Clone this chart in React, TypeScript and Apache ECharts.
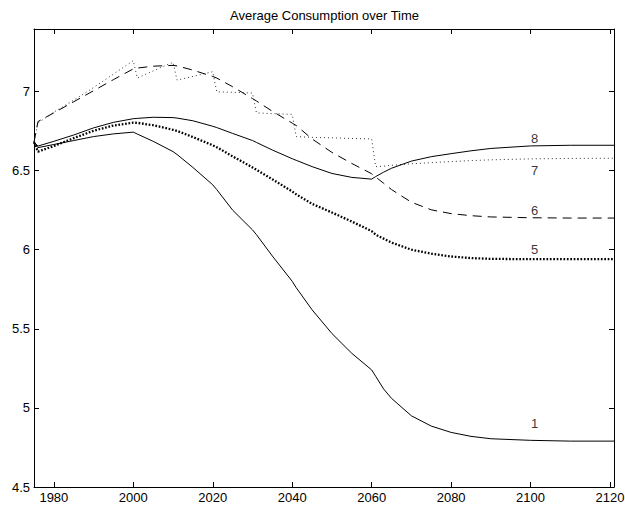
import React, { useEffect, useRef } from "react";
import * as echarts from "echarts";

// Sample years shared by every scenario
const years = [
  1975, 1976, 1980, 1985, 1990, 1995, 2000, 2001, 2005, 2010, 2011, 2015, 2020, 2021, 2025,
  2030, 2031, 2035, 2040, 2041, 2045, 2050, 2055, 2060, 2061, 2063, 2065, 2070, 2075, 2080,
  2085, 2090, 2100, 2110, 2121,
];

// Average consumption per scenario
const scenario1 = [
  6.68, 6.645, 6.665, 6.69, 6.715, 6.732, 6.743, 6.731, 6.685, 6.62, 6.602, 6.52, 6.41, 6.38, 6.25,
  6.125, 6.095, 5.96, 5.8, 5.76, 5.62, 5.47, 5.345, 5.24, 5.2, 5.12, 5.06, 4.95, 4.885, 4.845,
  4.82, 4.805, 4.795, 4.79, 4.79,
];
const scenario5 = [
  6.68, 6.62, 6.655, 6.705, 6.752, 6.785, 6.803, 6.802, 6.787, 6.758, 6.751, 6.712, 6.66, 6.648, 6.59,
  6.52, 6.505, 6.445, 6.368, 6.35, 6.29, 6.235, 6.178, 6.117, 6.095, 6.07, 6.045, 6.0, 5.975, 5.957,
  5.947, 5.942, 5.94, 5.94, 5.94,
];
const scenario6 = [
  6.68, 6.81, 6.865, 6.935, 7.005, 7.075, 7.143, 7.148, 7.16, 7.165, 7.162, 7.135, 7.095, 7.085, 7.03,
  6.955, 6.94, 6.875, 6.8, 6.785, 6.7, 6.615, 6.545, 6.48, 6.46, 6.42, 6.38, 6.3, 6.252, 6.228,
  6.215, 6.207, 6.202, 6.2, 6.2,
];
const scenario7 = [
  6.68, 6.8, 6.87, 6.945, 7.025, 7.11, 7.195, 7.085, 7.13, 7.185, 7.072, 7.095, 7.125, 6.998, 6.995,
  6.99, 6.865, 6.86, 6.855, 6.715, 6.71, 6.707, 6.703, 6.7, 6.525, 6.528, 6.533, 6.543, 6.55, 6.557,
  6.563, 6.568, 6.574, 6.577, 6.578,
];
const scenario8 = [
  6.68, 6.655, 6.685, 6.725, 6.77, 6.805, 6.828, 6.83, 6.837, 6.835, 6.832, 6.815, 6.78, 6.772, 6.735,
  6.69, 6.678, 6.63, 6.575, 6.565, 6.525, 6.482, 6.457, 6.446, 6.462, 6.49, 6.515, 6.56, 6.588, 6.607,
  6.625, 6.64, 6.656, 6.66, 6.66,
];

// Curve tags written next to each line
const tagNames = ["1", "5", "6", "7", "8"];
const tagYears = [2100, 2100, 2100, 2100, 2100];
const tagValues = [4.9, 6.0, 6.25, 6.5, 6.7];

// Axis ranges and ticks
const xMin = 1975;
const xMax = 2121;
const yMin = 4.5;
const yMax = 7.395;
const xTicks = [1980, 2000, 2020, 2040, 2060, 2080, 2100, 2120];
const yTicks = [4.5, 5, 5.5, 6, 6.5, 7];

const FONT = "'Liberation Sans', Arial, Helvetica, sans-serif";
const TITLE = "Average Consumption over Time";

const pairs = (vals: number[]) => years.map((y, i) => [y, vals[i]]);

export default function App() {
  const ref = useRef<HTMLDivElement>(null);

  useEffect(() => {
    if (!ref.current) return;
    const chart = echarts.init(ref.current, undefined, { renderer: "svg" });

    const axisLine = { show: true, lineStyle: { color: "#000", width: 1 } };
    const tickStyle = { color: "#000", width: 1 };
    const labelStyle = { color: "#000", fontSize: 13, fontFamily: FONT };

    const line = (name: string, vals: number[], lineStyle: any) => ({
      name,
      type: "line",
      xAxisIndex: 0,
      yAxisIndex: 0,
      data: pairs(vals),
      showSymbol: false,
      symbol: "none",
      smooth: false,
      lineStyle: { color: "#000", ...lineStyle },
      z: 3,
    });

    chart.setOption({
      animation: false,
      backgroundColor: "#fff",
      textStyle: { fontFamily: FONT },
      grid: {
        left: 34,
        right: 11,
        top: 29,
        bottom: 21,
        containLabel: false,
        outerBoundsMode: "none",
      },
      graphic: [
        {
          type: "text",
          x: 324.5,
          y: 15,
          style: {
            text: TITLE,
            fill: "#000",
            fontSize: 13,
            fontFamily: FONT,
            align: "center",
            verticalAlign: "middle",
            textAlign: "center",
            textVerticalAlign: "middle",
          },
        },
      ],
      xAxis: [
        {
          type: "value",
          position: "bottom",
          min: xMin,
          max: xMax,
          axisLine,
          splitLine: { show: false },
          axisTick: { show: true, inside: true, length: 5, lineStyle: tickStyle, customValues: xTicks },
          axisLabel: { ...labelStyle, margin: 4, customValues: xTicks, formatter: (v: number) => String(v) },
        },
        {
          type: "value",
          position: "top",
          min: xMin,
          max: xMax,
          axisLine,
          splitLine: { show: false },
          axisTick: { show: true, inside: true, length: 5, lineStyle: tickStyle, customValues: xTicks },
          axisLabel: { show: false },
        },
      ],
      yAxis: [
        {
          type: "value",
          position: "left",
          min: yMin,
          max: yMax,
          axisLine,
          splitLine: { show: false },
          axisTick: { show: true, inside: true, length: 5, lineStyle: tickStyle, customValues: yTicks },
          axisLabel: { ...labelStyle, margin: 4, customValues: yTicks, formatter: (v: number) => String(v) },
        },
        {
          type: "value",
          position: "right",
          min: yMin,
          max: yMax,
          axisLine,
          splitLine: { show: false },
          axisTick: { show: true, inside: true, length: 5, lineStyle: tickStyle, customValues: yTicks },
          axisLabel: { show: false },
        },
      ],
      series: [
        line("1", scenario1, { width: 1, type: "solid" }),
        line("5", scenario5, { width: 2.3, type: [1.7, 1.7] }),
        line("6", scenario6, { width: 1, type: [9, 6] }),
        line("7", scenario7, { width: 1, type: [1, 3], color: "#333" }),
        line("8", scenario8, { width: 1, type: "solid" }),
        {
          name: "tags",
          type: "scatter",
          xAxisIndex: 0,
          yAxisIndex: 0,
          symbolSize: 1,
          itemStyle: { color: "rgba(0,0,0,0)" },
          data: tagNames.map((n, i) => [tagYears[i], tagValues[i], n]),
          label: {
            show: true,
            position: "right",
            distance: 0,
            formatter: (p: any) => p.value[2],
            color: "#000",
            fontSize: 13,
            fontFamily: FONT,
          },
          z: 4,
        },
      ],
    });

    return () => chart.dispose();
  }, []);

  return (
    <div
      ref={ref}
      style={{ position: "fixed", left: 0, top: 0, width: 625, height: 508, background: "#fff" }}
    />
  );
}
